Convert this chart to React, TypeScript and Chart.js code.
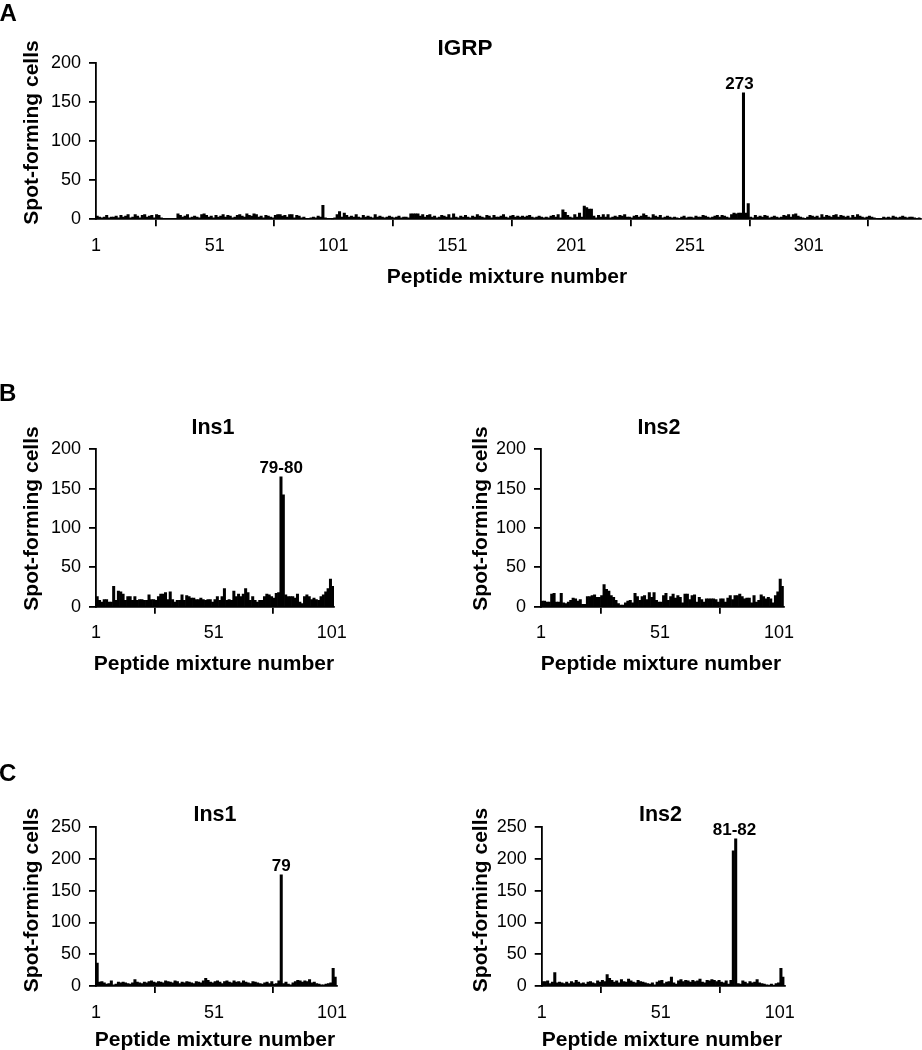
import React, { useEffect, useRef } from "react";
import { Chart, registerables } from "chart.js";

Chart.register(...registerables);

const FONT = '"Liberation Sans", Arial, Helvetica, sans-serif';

// ---------------- Data ----------------
const IGRP_VALUES: number[] = [
  // 1-25
  4, 3, 2, 3, 5, 2, 3, 3, 4, 2, 5, 3, 4, 6, 2, 3, 6, 4, 2, 5, 6, 3, 4, 5, 2,
  // 26-50
  6, 5, 2, 1, 1, 1, 1, 1, 1, 7, 5, 3, 4, 6, 2, 3, 4, 3, 2, 6, 7, 5, 3, 4, 2,
  // 51-75
  5, 3, 4, 6, 3, 5, 4, 2, 3, 5, 6, 4, 3, 7, 5, 4, 7, 6, 3, 4, 2, 5, 4, 3, 2,
  // 76-100
  5, 6, 6, 4, 5, 3, 6, 6, 2, 5, 4, 2, 3, 1, 1, 2, 3, 2, 4, 3, 18, 2, 1, 1, 0,
  // 101-125
  2, 6, 10, 3, 8, 5, 3, 4, 3, 6, 3, 2, 5, 3, 4, 3, 2, 6, 3, 4, 3, 2, 3, 4, 3,
  // 126-150
  2, 3, 4, 2, 3, 3, 2, 7, 7, 7, 7, 4, 6, 3, 5, 6, 3, 4, 2, 3, 5, 4, 3, 6, 2,
  // 151-175
  7, 3, 2, 4, 3, 5, 3, 2, 4, 3, 6, 4, 3, 2, 5, 4, 2, 5, 3, 3, 4, 6, 3, 2, 4,
  // 176-200
  5, 3, 4, 3, 4, 3, 4, 5, 3, 2, 3, 4, 3, 2, 3, 2, 4, 5, 3, 6, 2, 12, 9, 5, 3,
  // 201-225
  2, 6, 3, 8, 3, 17, 15, 13, 13, 4, 2, 5, 3, 6, 3, 6, 2, 3, 4, 3, 5, 4, 6, 3, 3,
  // 226-250
  2, 4, 5, 3, 4, 7, 5, 3, 2, 6, 4, 3, 5, 2, 3, 4, 3, 2, 3, 2, 1, 3, 4, 2, 3,
  // 251-275
  3, 2, 4, 3, 3, 5, 4, 3, 2, 3, 4, 5, 3, 5, 4, 3, 2, 6, 8, 7, 8, 8, 162, 8, 20,
  // 276-300
  3, 2, 5, 3, 4, 3, 5, 4, 2, 3, 4, 3, 2, 3, 5, 4, 6, 3, 6, 7, 4, 3, 2, 1, 3,
  // 301-325
  5, 4, 3, 4, 2, 6, 3, 5, 4, 3, 5, 6, 3, 5, 4, 3, 4, 2, 5, 3, 6, 4, 3, 2, 3,
  // 326-347
  4, 3, 2, 1, 0, 0, 3, 2, 3, 2, 4, 3, 2, 3, 4, 3, 2, 3, 3, 2, 1, 2,
];

const B_INS1_VALUES: number[] = [
  13, 8, 6, 9, 9, 6, 6, 26, 8, 20,
  19, 16, 8, 13, 13, 8, 13, 8, 9, 9,
  8, 8, 15, 9, 9, 8, 13, 16, 16, 18,
  9, 19, 9, 6, 8, 8, 15, 8, 14, 13,
  11, 11, 9, 9, 11, 9, 8, 9, 9, 6,
  9, 13, 8, 13, 23, 8, 9, 8, 20, 13,
  16, 13, 16, 23, 18, 8, 13, 8, 6, 8,
  8, 13, 16, 15, 13, 11, 17, 18, 165, 142,
  15, 13, 13, 13, 11, 16, 6, 4, 13, 15,
  13, 9, 11, 9, 8, 13, 15, 19, 23, 35,
  26,
];

const B_INS2_VALUES: number[] = [
  7, 7, 6, 6, 16, 17, 6, 6, 17, 5,
  4, 6, 8, 11, 10, 7, 9, 3, 3, 13,
  13, 14, 15, 12, 12, 14, 28, 22, 20, 14,
  12, 8, 4, 2, 2, 5, 7, 8, 5, 17,
  13, 8, 13, 14, 9, 18, 12, 18, 8, 6,
  6, 14, 17, 8, 13, 16, 11, 14, 12, 5,
  16, 16, 9, 14, 15, 6, 12, 9, 6, 10,
  10, 10, 10, 9, 6, 10, 10, 6, 11, 14,
  9, 14, 14, 16, 13, 10, 11, 11, 5, 14,
  6, 8, 15, 13, 10, 12, 10, 5, 14, 19,
  35, 26,
];

const C_INS1_VALUES: number[] = [
  36, 6, 7, 5, 3, 4, 8, 2, 3, 6,
  5, 6, 5, 4, 3, 5, 10, 6, 5, 4,
  6, 5, 7, 8, 6, 5, 7, 6, 5, 8,
  7, 6, 5, 8, 7, 4, 6, 5, 7, 6,
  5, 4, 7, 6, 5, 8, 12, 9, 6, 5,
  7, 8, 6, 4, 7, 8, 6, 5, 8, 6,
  7, 5, 8, 6, 5, 4, 7, 6, 5, 4,
  3, 5, 6, 4, 7, 3, 4, 8, 175, 4,
  6, 3, 2, 5, 7, 9, 8, 6, 8, 7,
  10, 5, 6, 4, 3, 2, 2, 3, 4, 5,
  28, 14,
];

const C_INS2_VALUES: number[] = [
  7, 7, 8, 4, 6, 21, 5, 6, 5, 4,
  6, 4, 7, 5, 9, 6, 4, 5, 3, 6,
  7, 5, 4, 8, 6, 9, 7, 18, 12, 9,
  6, 8, 5, 10, 7, 6, 11, 8, 6, 5,
  9, 7, 6, 5, 4, 3, 5, 2, 6, 8,
  9, 4, 6, 7, 14, 5, 3, 8, 10, 7,
  9, 8, 6, 9, 7, 8, 11, 6, 5, 9,
  8, 10, 9, 7, 9, 6, 5, 8, 3, 9,
  213, 232, 4, 3, 8, 6, 4, 7, 5, 6,
  10, 5, 4, 3, 2, 1, 3, 1, 4, 5,
  28, 14,
];

const IGRP_X_TICKS = [1, 51, 101, 151, 201, 251, 301];
const INS_X_TICKS = [1, 51, 101];
const Y_TICKS_200 = [0, 50, 100, 150, 200];
const Y_TICKS_250 = [0, 50, 100, 150, 200, 250];

const Y_TITLE = "Spot-forming cells";
const X_TITLE = "Peptide mixture number";

// ---------------- Layout ----------------
type TextItem = {
  text: string;
  x: number;
  y: number;
  size: number;
  bold?: boolean;
  align?: CanvasTextAlign;
  rotate?: boolean;
};

type Spec = {
  box: { x: number; y: number; w: number; h: number };
  area: { l: number; t: number; r: number; b: number };
  values: number[];
  yMax: number;
  yTicks: number[];
  xTicks: number[];
  peak?: { label: string; bars: number[]; dx?: number };
  texts: TextItem[];
};

const SPECS: Spec[] = [
  {
    box: { x: 0, y: 0, w: 922, h: 290 },
    area: { l: 96, t: 63.3, r: 920.5, b: 219.3 },
    values: IGRP_VALUES,
    yMax: 200,
    yTicks: Y_TICKS_200,
    xTicks: IGRP_X_TICKS,
    peak: { label: "273", bars: [273], dx: -4 },
    texts: [
      { text: "A", x: -0.5, y: 20.5, size: 24, bold: true, align: "left" },
      { text: "IGRP", x: 465, y: 54.5, size: 22.5, bold: true },
      { text: Y_TITLE, x: 37.5, y: 132.5, size: 21, bold: true, rotate: true },
      { text: X_TITLE, x: 507, y: 283, size: 21, bold: true },
    ],
  },
  {
    box: { x: 0, y: 370, w: 460, h: 310 },
    area: { l: 96, t: 449.3, r: 334, b: 606.7 },
    values: B_INS1_VALUES,
    yMax: 200,
    yTicks: Y_TICKS_200,
    xTicks: INS_X_TICKS,
    peak: { label: "79-80", bars: [79, 80], dx: -1 },
    texts: [
      { text: "B", x: -1, y: 401, size: 24, bold: true, align: "left" },
      { text: "Ins1", x: 213, y: 434, size: 21.5, bold: true },
      { text: Y_TITLE, x: 37.5, y: 518.5, size: 21, bold: true, rotate: true },
      { text: X_TITLE, x: 214, y: 670, size: 21, bold: true },
    ],
  },
  {
    box: { x: 460, y: 370, w: 462, h: 310 },
    area: { l: 541, t: 449.3, r: 783.8, b: 606.7 },
    values: B_INS2_VALUES,
    yMax: 200,
    yTicks: Y_TICKS_200,
    xTicks: INS_X_TICKS,
    texts: [
      { text: "Ins2", x: 659, y: 434, size: 21.5, bold: true },
      { text: Y_TITLE, x: 487, y: 518.5, size: 21, bold: true, rotate: true },
      { text: X_TITLE, x: 661, y: 670, size: 21, bold: true },
    ],
  },
  {
    box: { x: 0, y: 750, w: 460, h: 300 },
    area: { l: 96, t: 827.3, r: 336.7, b: 986 },
    values: C_INS1_VALUES,
    yMax: 250,
    yTicks: Y_TICKS_250,
    xTicks: INS_X_TICKS,
    peak: { label: "79", bars: [79] },
    texts: [
      { text: "C", x: -1, y: 780.5, size: 24, bold: true, align: "left" },
      { text: "Ins1", x: 215, y: 820.5, size: 21.5, bold: true },
      { text: Y_TITLE, x: 37.5, y: 900, size: 21, bold: true, rotate: true },
      { text: X_TITLE, x: 215, y: 1046, size: 21, bold: true },
    ],
  },
  {
    box: { x: 460, y: 750, w: 462, h: 300 },
    area: { l: 541.7, t: 827.3, r: 784.5, b: 986 },
    values: C_INS2_VALUES,
    yMax: 250,
    yTicks: Y_TICKS_250,
    xTicks: INS_X_TICKS,
    peak: { label: "81-82", bars: [81, 82] },
    texts: [
      { text: "Ins2", x: 660.5, y: 820.5, size: 21.5, bold: true },
      { text: Y_TITLE, x: 487, y: 900, size: 21, bold: true, rotate: true },
      { text: X_TITLE, x: 662, y: 1046, size: 21, bold: true },
    ],
  },
];

function makeTextPlugin(spec: Spec) {
  return {
    id: "panelTexts",
    afterDraw(chart: any) {
      const ctx: CanvasRenderingContext2D = chart.ctx;
      ctx.save();
      ctx.fillStyle = "#000";
      ctx.textBaseline = "alphabetic";
      for (const t of spec.texts) {
        ctx.font = `${t.bold ? "bold " : ""}${t.size}px ${FONT}`;
        ctx.textAlign = t.align || "center";
        const x = t.x - spec.box.x;
        const y = t.y - spec.box.y;
        if (t.rotate) {
          ctx.save();
          ctx.translate(x, y);
          ctx.rotate(-Math.PI / 2);
          ctx.fillText(t.text, 0, 0);
          ctx.restore();
        } else {
          ctx.fillText(t.text, x, y);
        }
      }
      if (spec.peak) {
        const xs = chart.scales.x;
        const ys = chart.scales.y;
        const pxs = spec.peak.bars.map((b) => xs.getPixelForValue(b));
        const px = pxs.reduce((a, c) => a + c, 0) / pxs.length + (spec.peak.dx || 0);
        const top = Math.min(
          ...spec.peak.bars.map((b) => ys.getPixelForValue(spec.values[b - 1]))
        );
        ctx.font = `bold 17px ${FONT}`;
        ctx.textAlign = "center";
        ctx.fillText(spec.peak.label, px, top - 4);
      }
      ctx.restore();
    },
  };
}

function makeChart(canvas: HTMLCanvasElement, spec: Spec) {
  const N = spec.values.length;
  const points = spec.values.map((v, i) => ({ x: i + 1, y: v }));
  const padTop = spec.area.t - spec.box.y;
  const padRight = spec.box.x + spec.box.w - spec.area.r;
  const yWidth = spec.area.l - spec.box.x;
  const xHeight = spec.box.y + spec.box.h - spec.area.b;
  const tickFont = { size: 18, family: FONT };
  const grid = {
    display: true,
    drawOnChartArea: false,
    drawTicks: true,
    tickLength: 7,
    color: "#000",
    lineWidth: 1.8,
  };
  const border = { display: true, color: "#000", width: 1.8 };
  return new Chart(canvas, {
    type: "bar",
    data: {
      datasets: [
        {
          data: points as any,
          backgroundColor: "#000",
          borderWidth: 0,
          barPercentage: 1,
          categoryPercentage: 1,
        },
      ],
    },
    options: {
      animation: false,
      responsive: false,
      devicePixelRatio: 1,
      layout: { padding: { top: padTop, right: padRight, left: 0, bottom: 0 } },
      plugins: {
        legend: { display: false },
        tooltip: { enabled: false },
        title: { display: false },
      },
      scales: {
        x: {
          type: "linear",
          min: 0.5,
          max: N + 0.5,
          offset: false,
          afterBuildTicks: (s: any) => {
            s.ticks = spec.xTicks.map((v) => ({ value: v - 0.5 }));
          },
          afterFit: (s: any) => {
            s.height = xHeight;
          },
          ticks: {
            callback: (v: any) => String(Math.round(Number(v) + 0.5)),
            font: tickFont,
            color: "#000",
            padding: 9,
            maxRotation: 0,
            autoSkip: false,
          },
          grid,
          border,
        },
        y: {
          type: "linear",
          min: 0,
          max: spec.yMax,
          afterBuildTicks: (s: any) => {
            s.ticks = spec.yTicks.map((v) => ({ value: v }));
          },
          afterFit: (s: any) => {
            s.width = yWidth;
          },
          ticks: {
            font: tickFont,
            color: "#000",
            padding: 8,
            autoSkip: false,
          },
          grid,
          border,
        },
      },
    } as any,
    plugins: [makeTextPlugin(spec)],
  });
}

function Panel({ spec }: { spec: Spec }) {
  const ref = useRef<HTMLCanvasElement | null>(null);
  useEffect(() => {
    if (!ref.current) return;
    const chart = makeChart(ref.current, spec);
    return () => chart.destroy();
  }, [spec]);
  return (
    <canvas
      ref={ref}
      width={spec.box.w}
      height={spec.box.h}
      style={{
        position: "absolute",
        left: spec.box.x,
        top: spec.box.y,
        width: spec.box.w,
        height: spec.box.h,
      }}
    />
  );
}

export default function App() {
  return (
    <div
      style={{
        position: "absolute",
        left: 0,
        top: 0,
        width: 922,
        height: 1050,
        background: "#fff",
        overflow: "hidden",
      }}
    >
      {SPECS.map((s, i) => (
        <Panel key={i} spec={s} />
      ))}
    </div>
  );
}
